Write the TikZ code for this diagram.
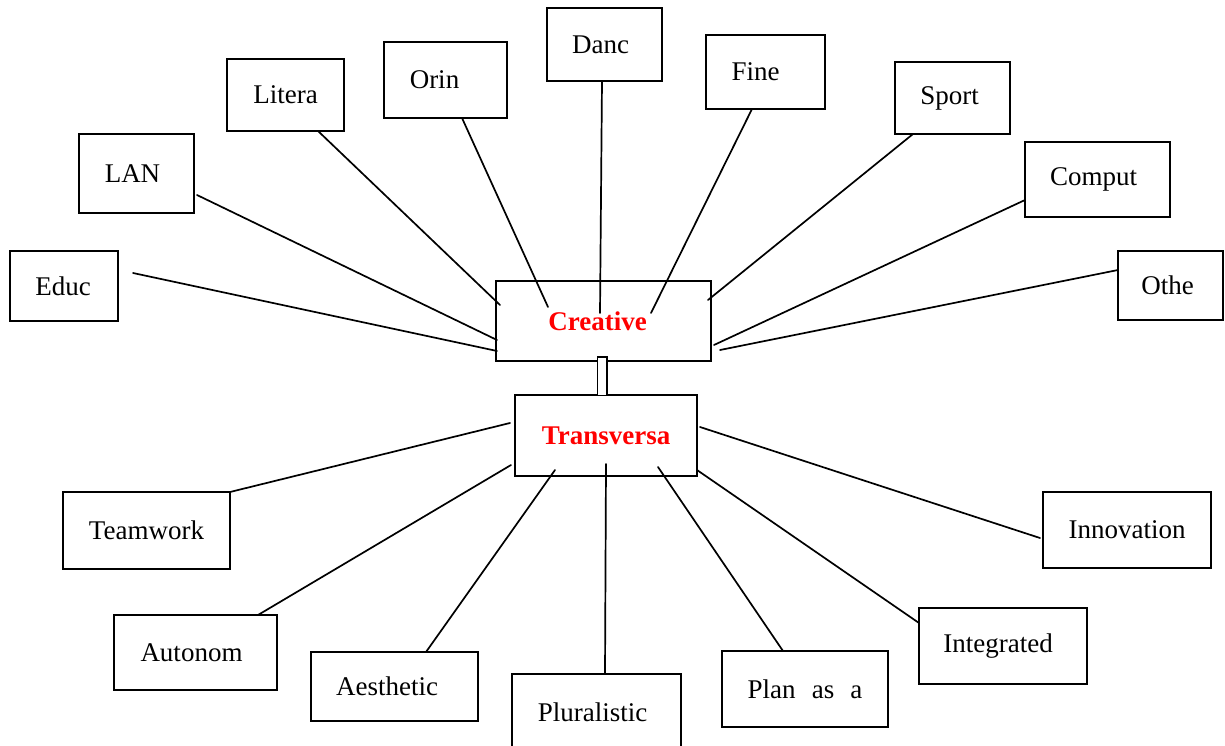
\documentclass[tikz,border=0pt]{standalone}
\usepackage{fontspec}
\setmainfont{Liberation Serif}
\begin{document}
\begin{tikzpicture}[x=1pt,y=-1pt,
  box/.style={draw, line width=2pt, rectangle, inner sep=0pt, align=center,
    font=\fontsize{27}{32}\selectfont},
  hub/.style={box, text=red, font=\fontsize{27}{32}\selectfont\bfseries},
  link/.style={line width=1.7pt, line cap=round},
  bridge/.style={draw, line width=1.5pt, fill=white}]
\clip (0,0) rectangle (1225,746);
\fill[white] (0,0) rectangle (1225,746);
% top nodes
\node[box, minimum width=108pt, minimum height=70pt] (educ) at (64,286) {\hspace*{-2pt}Educ};
\node[box, minimum width=115pt, minimum height=79pt] (lan) at (136.5,173.5) {\hspace*{-8pt}LAN};
\node[box, minimum width=117pt, minimum height=72pt] (litera) at (285.5,95) {Litera};
\node[box, minimum width=123pt, minimum height=76pt] (orin) at (445.5,80) {\hspace*{-22pt}Orin};
\node[box, minimum width=115pt, minimum height=73pt] (danc) at (604.5,44.5) {\hspace*{-8pt}Danc};
\node[box, minimum width=119pt, minimum height=74pt] (fine) at (765.5,72) {\hspace*{-20pt}Fine};
\node[box, minimum width=115pt, minimum height=72pt] (sport) at (952.5,98) {\hspace*{-6pt}Sport};
\node[box, minimum width=145pt, minimum height=75pt] (comput) at (1097.5,179.5) {\hspace*{-8pt}Comput};
\node[box, minimum width=105pt, minimum height=69pt] (othe) at (1170.5,285.5) {\hspace*{-6pt}Othe};
% hubs
\node[hub, minimum width=215pt, minimum height=80pt] (creative) at (603.5,321) {\hspace*{-12pt}Creative};
\node[hub, minimum width=182pt, minimum height=81pt] (transversa) at (606,435.5) {Transversa};
% bottom nodes
\node[box, minimum width=167pt, minimum height=77pt] (teamwork) at (146.5,530.5) {Teamwork};
\node[box, minimum width=163pt, minimum height=75pt] (autonom) at (195.5,652.5) {\hspace*{-8pt}Autonom};
\node[box, minimum width=167pt, minimum height=69pt] (aesthetic) at (394.5,686.5) {\hspace*{-15pt}Aesthetic};
\node[box, minimum width=169pt, minimum height=76pt] (pluralistic) at (596.5,712) {\hspace*{-8pt}Pluralistic};
\node[box, minimum width=166pt, minimum height=76pt] (plan) at (805,689) {Plan\hspace{0.6em}as\hspace{0.6em}a};
\node[box, minimum width=168pt, minimum height=76pt] (integrated) at (1003,646) {\hspace*{-10pt}Integrated};
\node[box, minimum width=168pt, minimum height=76pt] (innovation) at (1127,530) {Innovation};
% connector ends
\coordinate (educA) at (133,273);   \coordinate (educB) at (497,351);
\coordinate (lanA) at (197,195);    \coordinate (lanB) at (497,340);
\coordinate (literaA) at (318,131); \coordinate (literaB) at (500,305);
\coordinate (orinA) at (462,118);   \coordinate (orinB) at (548,307);
\coordinate (dancA) at (602,81);    \coordinate (dancB) at (600,313);
\coordinate (fineA) at (752,109);   \coordinate (fineB) at (651,313);
\coordinate (sportA) at (913,134);  \coordinate (sportB) at (708,300);
\coordinate (computA) at (1025,200);\coordinate (computB) at (714,345);
\coordinate (otheA) at (1118,270);  \coordinate (otheB) at (720,350);
\coordinate (teamA) at (230,492);   \coordinate (teamB) at (510,423);
\coordinate (autoA) at (258,615);   \coordinate (autoB) at (511,465);
\coordinate (aesA) at (426,652);    \coordinate (aesB) at (555,470);
\coordinate (pluA) at (605,674);    \coordinate (pluB) at (606,464);
\coordinate (planA) at (783,651);   \coordinate (planB) at (658,467);
\coordinate (intA) at (919,623);    \coordinate (intB) at (697,470);
\coordinate (innA) at (1040,538);   \coordinate (innB) at (700,427);
\draw[link] (educA) -- (educB);
\draw[link] (lanA) -- (lanB);
\draw[link] (literaA) -- (literaB);
\draw[link] (orinA) -- (orinB);
\draw[link] (dancA) -- (dancB);
\draw[link] (fineA) -- (fineB);
\draw[link] (sportA) -- (sportB);
\draw[link] (computA) -- (computB);
\draw[link] (otheA) -- (otheB);
\draw[link] (teamA) -- (teamB);
\draw[link] (autoA) -- (autoB);
\draw[link] (aesA) -- (aesB);
\draw[link] (pluA) -- (pluB);
\draw[link] (planA) -- (planB);
\draw[link] (intA) -- (intB);
\draw[link] (innA) -- (innB);
% bridge between hubs
\coordinate (brTop) at (597.5,357);
\coordinate (brBot) at (607,395.5);
\draw[bridge] (brTop) rectangle (brBot);
\end{tikzpicture}
\end{document}
